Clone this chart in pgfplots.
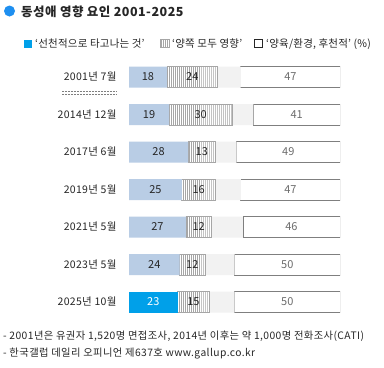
\documentclass[border=0pt]{standalone}
\usepackage{fontspec}
\setmainfont{Noto Sans CJK KR}
\usepackage{pgfplots}
\pgfplotsset{compat=1.18}
\usetikzlibrary{patterns}
\definecolor{lblue}{HTML}{B9CDE5}
\definecolor{bblue}{HTML}{00A0E9}
\definecolor{rest}{HTML}{F2F2F2}
\definecolor{boxg}{HTML}{7F7F7F}
\definecolor{hatchg}{HTML}{A6A6A6}
\definecolor{titleblue}{HTML}{1E8FF0}
\definecolor{txt}{HTML}{262626}
\pgfdeclarepatternformonly{vlinesdense}{\pgfqpoint{-0.5pt}{-0.5pt}}{\pgfqpoint{0.5pt}{0.5pt}}{\pgfqpoint{2pt}{1pt}}{%
  \pgfsetlinewidth{0.7pt}%
  \pgfpathmoveto{\pgfqpoint{0pt}{-0.5pt}}%
  \pgfpathlineto{\pgfqpoint{0pt}{0.5pt}}%
  \pgfusepath{stroke}}
\newcommand{\lsp}[1]{\addfontfeatures{LetterSpace=#1}}
\begin{document}
\begin{tikzpicture}
\fill[white] (0bp,0bp) rectangle (384bp,-368bp);
\useasboundingbox (0bp,0bp) rectangle (384bp,-368bp);
% title
\fill[titleblue] (9.5bp,-11bp) circle (5.5bp);
\node[anchor=west, inner sep=0pt, font=\fontsize{12.5bp}{14bp}\selectfont\bfseries\lsp{4}, text=txt] at (21bp,-11.5bp) {동성애 영향 요인 2001-2025};
% legend
\fill[bblue] (24bp,-39.5bp) rectangle (32bp,-47.5bp);
\node[anchor=west, inner sep=0pt, font=\fontsize{10.5bp}{12bp}\selectfont\lsp{2}, text=txt] at (35bp,-44bp) {‘선천적으로 타고나는 것’};
\fill[pattern=vlinesdense, pattern color=hatchg] (160bp,-39.5bp) rectangle (169bp,-47.5bp);
\draw[hatchg, line width=0.6bp] (160bp,-39.5bp) rectangle (169bp,-47.5bp);
\node[anchor=west, inner sep=0pt, font=\fontsize{10.5bp}{12bp}\selectfont\lsp{2}, text=txt] at (172bp,-44bp) {‘양쪽 모두 영향’};
\draw[txt, line width=0.7bp] (254bp,-39.5bp) rectangle (262bp,-47.5bp);
\node[anchor=west, inner sep=0pt, font=\fontsize{10.5bp}{12bp}\selectfont\lsp{2}, text=txt] at (266bp,-44bp) {‘양육/환경, 후천적’ (\%)};
% separator
\draw[boxg, densely dotted, line width=0.5bp] (62bp,-91bp) -- (117bp,-91bp);
\draw[boxg, densely dotted, line width=0.5bp] (62bp,-94bp) -- (117bp,-94bp);
\begin{axis}[
  at={(129bp,-58.25bp)}, anchor=north west,
  scale only axis, width=211bp, height=262.5bp,
  xbar stacked, bar width=21bp,
  xmin=0, xmax=100, ymin=-0.5, ymax=6.5, y dir=reverse,
  axis line style={draw=none}, major tick length=0pt,
  xtick=\empty, ytick={0,...,6},
  yticklabels={2001년 7월,2014년 12월,2017년 6월,2019년 5월,2021년 5월,2023년 5월,2025년 10월},
  yticklabel style={anchor=east, xshift=-9bp, font=\fontsize{10.5bp}{12bp}\selectfont\lsp{3}, text=txt},
  point meta=explicit symbolic,
  nodes near coords,
  every node near coord/.append style={font=\fontsize{11bp}{13bp}\selectfont, text=txt},
]
\addplot[fill=lblue, draw=none] table[x=v, y=r, meta=l] {
r v l
0 18 18
1 19 19
2 28 28
3 25 25
4 27 27
5 24 24
6 0 {}
};
\addplot[fill=bblue, draw=none, every node near coord/.append style={text=white}] table[x=v, y=r, meta=l] {
r v l
0 0 {}
1 0 {}
2 0 {}
3 0 {}
4 0 {}
5 0 {}
6 23 23
};
\addplot[pattern=vlinesdense, pattern color=hatchg, draw=hatchg, line width=0.8bp] table[x=v, y=r, meta=l] {
r v l
0 24 24
1 30 30
2 13 13
3 16 16
4 12 12
5 12 12
6 15 15
};
\addplot[fill=rest, draw=none] table[x=v, y=r, meta=l] {
r v l
0 11 {}
1 10 {}
2 10 {}
3 12 {}
4 15 {}
5 14 {}
6 12 {}
};
\addplot[fill=white, draw=boxg, line width=0.8bp, every node near coord/.append style={text=boxg!85!black}] table[x=v, y=r, meta=l] {
r v l
0 47 47
1 41 41
2 49 49
3 47 47
4 46 46
5 50 50
6 50 50
};
\end{axis}
% footnotes
\node[anchor=west, inner sep=0pt, font=\fontsize{10.3bp}{12bp}\selectfont\lsp{4}, text=txt] at (3bp,-336bp) {- 2001년은 유권자 1,520명 면접조사, 2014년 이후는 약 1,000명 전화조사(CATI)};
\node[anchor=west, inner sep=0pt, font=\fontsize{10.3bp}{12bp}\selectfont\lsp{4}, text=txt] at (3bp,-354bp) {- 한국갤럽 데일리 오피니언 제637호 www.gallup.co.kr};
\end{tikzpicture}
\end{document}
